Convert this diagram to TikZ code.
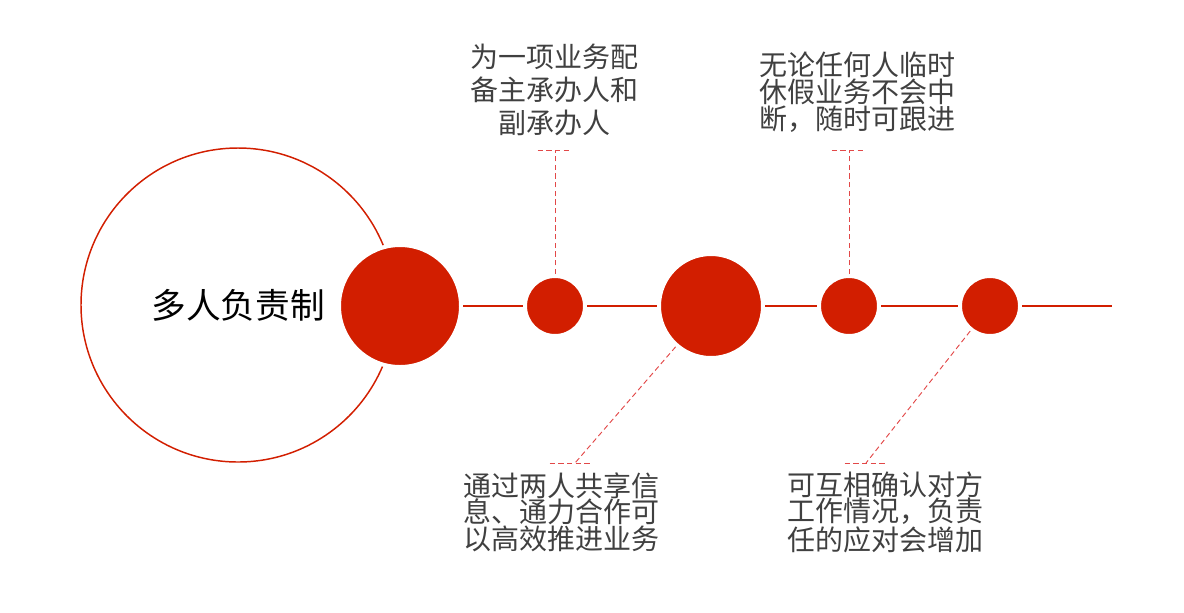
\documentclass[tikz,border=0pt]{standalone}
\usepackage{fontspec}
\setmainfont{Noto Sans CJK SC}
\usetikzlibrary{calc, positioning}
\definecolor{MR}{RGB}{210,30,0}
\definecolor{DR}{RGB}{226,72,72}
\definecolor{TG}{RGB}{64,64,64}

\begin{document}
\begin{tikzpicture}[x=0.75pt, y=-0.75pt,
  ring/.style={circle, draw=MR, line width=1.1pt, minimum size=235.5pt,
               inner sep=0pt, font=\fontsize{26}{30}\selectfont},
  dot/.style={circle, fill=MR, draw=white, line width=3pt,
              inner sep=0pt, minimum size=#1},
  link/.style={draw=MR, line width=1.3pt},
  lead/.style={draw=DR, line width=0.7pt, dash pattern=on 4pt off 2.5pt},
  note/.style={text=TG, align=center, font=\fontsize{21}{#1}\selectfont}
]
\useasboundingbox (0,0) rectangle (1184,612);

% Main ring
\node[ring] (main) at (238,305) {多人负责制};

% Timeline dots
\node[dot=91.5pt] (d1) at (400,306) {};
\node[dot=45pt]   (d2) at (555,306) {};
\node[dot=78pt]   (d3) at (711,306) {};
\node[dot=45pt]   (d4) at (849,306) {};
\node[dot=45pt]   (d5) at (990,306) {};
\coordinate (tail) at (1112,306);

\draw[link] (d1)--(d2);
\draw[link] (d2)--(d3);
\draw[link] (d3)--(d4);
\draw[link] (d4)--(d5);
\draw[link] (d5)--(tail);

% Notes
\node[note=24.75pt] (n1) at (554,90)  {为一项业务配\\备主承办人和\\副承办人};
\node[note=20pt]    (n2) at (857,92)  {无论任何人临时\\休假业务不会中\\断，随时可跟进};
\node[note=20pt]    (n3) at (561,512) {通过两人共享信\\息、通力合作可\\以高效推进业务};
\node[note=20pt]    (n4) at (885,512) {可互相确认对方\\工作情况，负责\\任的应对会增加};

% Leaders
\coordinate (f2) at (555,150);
\coordinate (f4) at (849,150);
\coordinate (f3) at (575,463);
\coordinate (f5) at (866,463);
\draw[lead] (d2)--(f2);
\draw[lead] (d4)--(f4);
\draw[lead] (d3)--(f3);
\draw[lead] (d5)--(f5);
\draw[lead] ([xshift=-13pt]f2)--([xshift=11pt]f2);
\draw[lead] ([xshift=-13pt]f4)--([xshift=12pt]f4);
\draw[lead] ([xshift=-19pt]f3)--([xshift=13pt]f3);
\draw[lead] ([xshift=-16pt]f5)--([xshift=14pt]f5);
\end{tikzpicture}
\end{document}
